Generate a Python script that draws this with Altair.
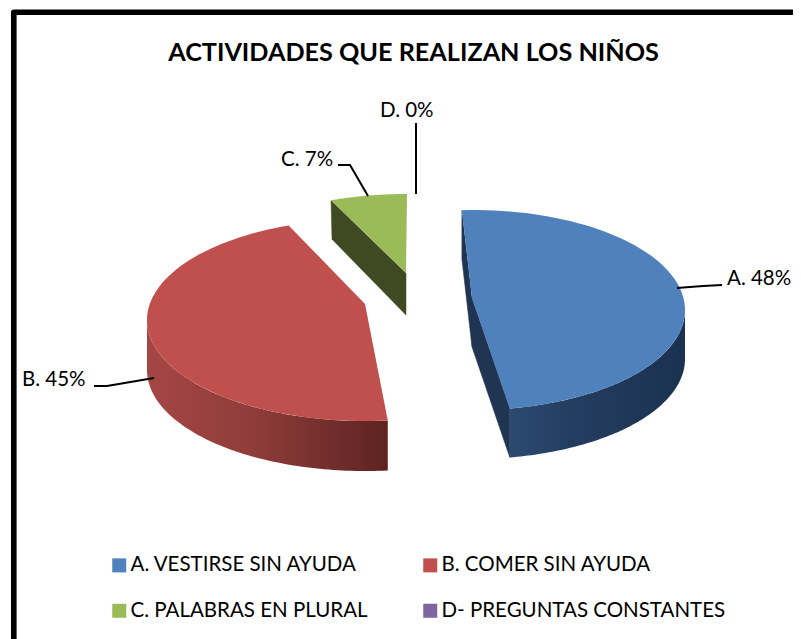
import math
import altair as alt
import pandas as pd

TITLE = "ACTIVIDADES QUE REALIZAN LOS NIÑOS"
SHORT = ["A.", "B.", "C.", "D."]
CATEGORIES = ["A. VESTIRSE SIN AYUDA", "B. COMER SIN AYUDA", "C. PALABRAS EN PLURAL", "D- PREGUNTAS CONSTANTES"]
PERCENT = [48, 45, 7, 0]
COLORS = ["#4f81bd", "#c0504d", "#9bbb59", "#8064a2"]

# layout, in picture pixels
W, H = 785, 631
FONT = "Lato"
GEOM = {
    "A": dict(c=(473, 310), a=212, b=100, d=49, apex=(472, 298), t0=-3.0, t1=170.0),
    "B": dict(c=(365, 320), a=218, b=101, d=50, apex=(365, 304), t0=174.0, t1=339.5),
    "C": dict(c=(407, 294), a=218, b=100, d=42, apex=(406, 273), t0=-20.4, t1=0.0),
}
LEADERS = [
    [(677, 288), (703, 286), (722, 285)],
    [(154, 378), (107, 386), (94, 386)],
    [(368, 196), (350, 165), (338, 165)],
    [(416, 194), (416, 123)],
]
LABEL_POS = [(727, 279), (22, 380), (281, 160), (380, 111)]


def pt(g, t, drop=0.0):
    r = math.radians(t)
    return (g["c"][0] + g["a"] * math.sin(r), g["c"][1] - g["b"] * math.cos(r) + drop)


def arc(g, t0, t1, drop=0.0, n=80):
    return [pt(g, t0 + (t1 - t0) * i / n, drop) for i in range(n + 1)]


def frame(points, **extra):
    return pd.DataFrame([dict(x=p[0], y=p[1], i=i, **extra) for i, p in enumerate(points)])


XS = alt.Scale(domain=[8, 8 + W], nice=False, zero=False)
YS = alt.Scale(domain=[8 + H, 8], nice=False, zero=False)
X = alt.X("x:Q", scale=XS, axis=None)
Y = alt.Y("y:Q", scale=YS, axis=None)
ORD = alt.Order("i:Q")


def solid(points, color):
    return alt.Chart(frame(points)).mark_line(fill=color, stroke=color, strokeWidth=0.5).encode(x=X, y=Y, order=ORD)


def grad(points, stops):
    g = alt.Gradient(gradient="linear", x1=0, x2=1, y1=0, y2=0,
                     stops=[alt.GradientStop(offset=o, color=c) for o, c in stops])
    return alt.Chart(frame(points)).mark_line(fill=g, strokeWidth=0).encode(x=X, y=Y, order=ORD)


A, B, C = GEOM["A"], GEOM["B"], GEOM["C"]
DARK_A = "#1f3552"
DARK_C = "#3f4a22"

layers = []
# blue inner faces and wall
s0, e0 = pt(A, A["t0"]), pt(A, A["t1"])
d = A["d"]
ap = A["apex"]
layers.append(solid([s0, (s0[0], s0[1] + d), (ap[0], ap[1] + d), ap], DARK_A))
layers.append(solid([ap, e0, (e0[0], e0[1] + d), (ap[0], ap[1] + d)], DARK_A))
layers.append(grad(arc(A, A["t1"], 90) + arc(A, 90, A["t1"], d),
                   [(0, "#2c4a72"), (0.35, "#233d60"), (1, "#1c3150")]))
# red wall
layers.append(grad(arc(B, 270, B["t0"]) + arc(B, B["t0"], 270, B["d"]),
                   [(0, "#a54644"), (0.45, "#8e3c3a"), (0.8, "#6e2c2a"), (1, "#5e2321")]))
# green face
s1 = pt(C, C["t0"])
ap1 = C["apex"]
layers.append(solid([s1, (s1[0] + 1, s1[1] + 39), (ap1[0], ap1[1] + C["d"]), ap1], DARK_C))

# top faces, which also carry the legend
tops = []
for k, cat in zip("ABC", CATEGORIES):
    g = GEOM[k]
    tops.append(frame([g["apex"]] + arc(g, g["t0"], g["t1"]), cat=cat))
top_df = pd.concat(tops)
legend = alt.Legend(
    title=None, orient="none", legendX=101, legendY=547, columns=2, direction="horizontal", symbolType="square",
    symbolSize=196, symbolStrokeWidth=0, symbolOpacity=1, labelFont=FONT, labelFontSize=20.5, labelColor="#000000",
    labelLimit=400, labelOffset=1, columnPadding=52, rowPadding=24.5,
)
layers.append(
    alt.Chart(top_df).mark_line(strokeWidth=0).encode(
        x=X, y=Y, order=ORD, detail="cat:N",
        fill=alt.Fill("cat:N", scale=alt.Scale(domain=CATEGORIES, range=COLORS), legend=legend),
    )
)

# leader lines
lead = pd.concat([frame(p, s=s) for p, s in zip(LEADERS, SHORT)])
layers.append(
    alt.Chart(lead).mark_line(color="#000000", strokeWidth=2).encode(x=X, y=Y, order=ORD, detail="s:N")
)

# data labels
labels = pd.DataFrame({
    "x": [p[0] for p in LABEL_POS], "y": [p[1] for p in LABEL_POS],
    "t": [f"{s} {v}%" for s, v in zip(SHORT, PERCENT)],
})
layers.append(
    alt.Chart(labels).mark_text(align="left", baseline="middle", font=FONT, fontSize=20.5, color="#000000").encode(
        x=X, y=Y, text="t:N")
)

# title
layers.append(
    alt.Chart(pd.DataFrame({"x": [413.5], "y": [53], "t": [TITLE]})).mark_text(
        align="center", baseline="middle", font=FONT, fontSize=25.2, fontWeight="bold", color="#000000"
    ).encode(x=X, y=Y, text="t:N")
)

# outer frame
layers.append(
    alt.Chart(frame([(13.8, 8 + H), (13.8, 12.2), (8 + W, 12.2)])).mark_line(
        color="#000000", strokeWidth=5.6, strokeJoin="round"
    ).encode(x=X, y=Y, order=ORD)
)

chart = alt.layer(*layers).resolve_scale(fill="independent").properties(
    width=W, height=H, padding=0, autosize=alt.AutoSizeParams(type="none"),
    background="#ffffff",
).configure_view(stroke=None)

chart.save("out.html", embed_options={"renderer": "svg", "actions": False})
